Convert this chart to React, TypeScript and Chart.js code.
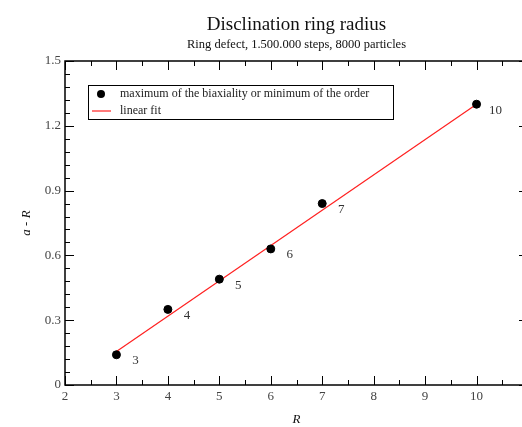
import React, { useEffect, useRef } from "react";
import { Chart, registerables } from "chart.js";

Chart.register(...registerables);

const pointR = [3, 4, 5, 6, 7, 10];
const pointA = [0.14, 0.35, 0.49, 0.63, 0.84, 1.3];
const pointLabels = ["3", "4", "5", "6", "7", "10"];
const fitR = [3, 10];
const fitA = [0.155, 1.3];
const xTicks = [2, 3, 4, 5, 6, 7, 8, 9, 10];
const yTicks = [0, 0.3, 0.6, 0.9, 1.2, 1.5];

const titleText = "Disclination ring radius";
const subtitleText = "Ring defect, 1.500.000 steps, 8000 particles";
const legendLabels = ["maximum of the biaxiality or minimum of the order", "linear fit"];
const SERIF = "'Liberation Serif', 'DejaVu Serif', serif";

const decor = {
  id: "decor",
  afterDraw(chart: any) {
    const ctx = chart.ctx;
    const a = chart.chartArea;
    const xs = chart.scales.x;
    const ys = chart.scales.y;
    ctx.save();
    // point labels
    ctx.fillStyle = "#333";
    ctx.font = `13px ${SERIF}`;
    ctx.textAlign = "center";
    ctx.textBaseline = "middle";
    pointR.forEach((r, i) => {
      const px = xs.getPixelForValue(r);
      const py = ys.getPixelForValue(pointA[i]);
      ctx.fillText(pointLabels[i], px + 19, py + 6);
    });
    // frame
    ctx.strokeStyle = "#000";
    ctx.lineWidth = 1.5;
    ctx.strokeRect(a.left, a.top, a.right - a.left, a.bottom - a.top);
    // ticks
    ctx.lineWidth = 1;
    ctx.beginPath();
    for (let v = 2; v <= 11.001; v += 0.5) {
      const px = Math.round(xs.getPixelForValue(v)) + 0.5;
      const major = Math.abs(v - Math.round(v)) < 1e-6;
      const len = major ? 9 : 5;
      ctx.moveTo(px, a.bottom);
      ctx.lineTo(px, a.bottom - len);
      ctx.moveTo(px, a.top);
      ctx.lineTo(px, a.top + len);
    }
    for (let k = 0; k <= 25; k++) {
      const v = k * 0.06;
      const py = Math.round(ys.getPixelForValue(v)) + 0.5;
      const len = k % 5 === 0 ? 9 : 5;
      ctx.moveTo(a.left, py);
      ctx.lineTo(a.left + len, py);
      ctx.moveTo(a.right, py);
      ctx.lineTo(a.right - len, py);
    }
    ctx.stroke();
    // legend
    const lx = 88, ly = 85, lw = 305, lh = 34;
    ctx.fillStyle = "#fff";
    ctx.fillRect(lx, ly, lw, lh);
    ctx.strokeStyle = "#000";
    ctx.lineWidth = 1;
    ctx.strokeRect(lx + 0.5, ly + 0.5, lw, lh);
    ctx.fillStyle = "#000";
    ctx.beginPath();
    ctx.arc(101, 94, 4, 0, Math.PI * 2);
    ctx.fill();
    ctx.strokeStyle = "#ff2020";
    ctx.lineWidth = 1.2;
    ctx.beginPath();
    ctx.moveTo(92, 111);
    ctx.lineTo(111, 111);
    ctx.stroke();
    ctx.fillStyle = "#222";
    ctx.font = `12px ${SERIF}`;
    ctx.textAlign = "left";
    ctx.textBaseline = "middle";
    ctx.fillText(legendLabels[0], 120, 94);
    ctx.fillText(legendLabels[1], 120, 111);
    // titles
    const cx = (a.left + a.right) / 2;
    ctx.textAlign = "center";
    ctx.fillStyle = "#111";
    ctx.font = `19px ${SERIF}`;
    ctx.fillText(titleText, cx, 25);
    ctx.font = `12.5px ${SERIF}`;
    ctx.fillText(subtitleText, cx, 45);
    ctx.font = `italic 13px ${SERIF}`;
    ctx.fillText("R", cx, 420);
    ctx.translate(27, (a.top + a.bottom) / 2);
    ctx.rotate(-Math.PI / 2);
    ctx.fillText("a - R", 0, 0);
    ctx.restore();
  },
};

export default function App() {
  const ref = useRef<HTMLCanvasElement>(null);
  useEffect(() => {
    if (!ref.current) return;
    const chart = new Chart(ref.current, {
      type: "scatter",
      data: {
        datasets: [
          {
            label: legendLabels[0],
            data: pointR.map((r, i) => ({ x: r, y: pointA[i] })),
            backgroundColor: "#000",
            borderColor: "#000",
            pointRadius: 4,
            showLine: false,
            order: 1,
          },
          {
            label: legendLabels[1],
            data: fitR.map((r, i) => ({ x: r, y: fitA[i] })),
            borderColor: "#ff2020",
            backgroundColor: "#ff2020",
            borderWidth: 1.2,
            pointRadius: 0,
            showLine: true,
            order: 2,
          },
        ],
      },
      options: {
        animation: false,
        responsive: false,
        devicePixelRatio: 1,
        layout: { padding: { left: 0, top: 61, right: 12, bottom: 0 } },
        plugins: { legend: { display: false }, title: { display: false }, tooltip: { enabled: false } },
        scales: {
          x: {
            type: "linear",
            min: 2,
            max: 11,
            border: { display: false },
            grid: { display: false, drawTicks: false },
            afterBuildTicks: (s: any) => {
              s.ticks = xTicks.map((v) => ({ value: v }));
            },
            afterFit: (s: any) => {
              s.height = 42;
            },
            ticks: {
              padding: 4,
              color: "#444",
              font: { family: SERIF, size: 13 },
              maxRotation: 0,
              autoSkip: false,
              callback: (v: any) => String(v),
            },
          },
          y: {
            type: "linear",
            min: 0,
            max: 1.5,
            border: { display: false },
            grid: { display: false, drawTicks: false },
            afterBuildTicks: (s: any) => {
              s.ticks = yTicks.map((v) => ({ value: v }));
            },
            afterFit: (s: any) => {
              s.width = 65;
            },
            ticks: {
              padding: 4,
              color: "#444",
              font: { family: SERIF, size: 13 },
              autoSkip: false,
              callback: (v: any) => String(Number(Number(v).toFixed(1))),
            },
          },
        },
      },
      plugins: [decor],
    } as any);
    return () => chart.destroy();
  }, []);
  return (
    <div style={{ position: "fixed", left: 0, top: 0, width: 522, height: 427, overflow: "hidden", background: "#fff" }}>
      <canvas ref={ref} width={540} height={427} style={{ display: "block" }} />
    </div>
  );
}
